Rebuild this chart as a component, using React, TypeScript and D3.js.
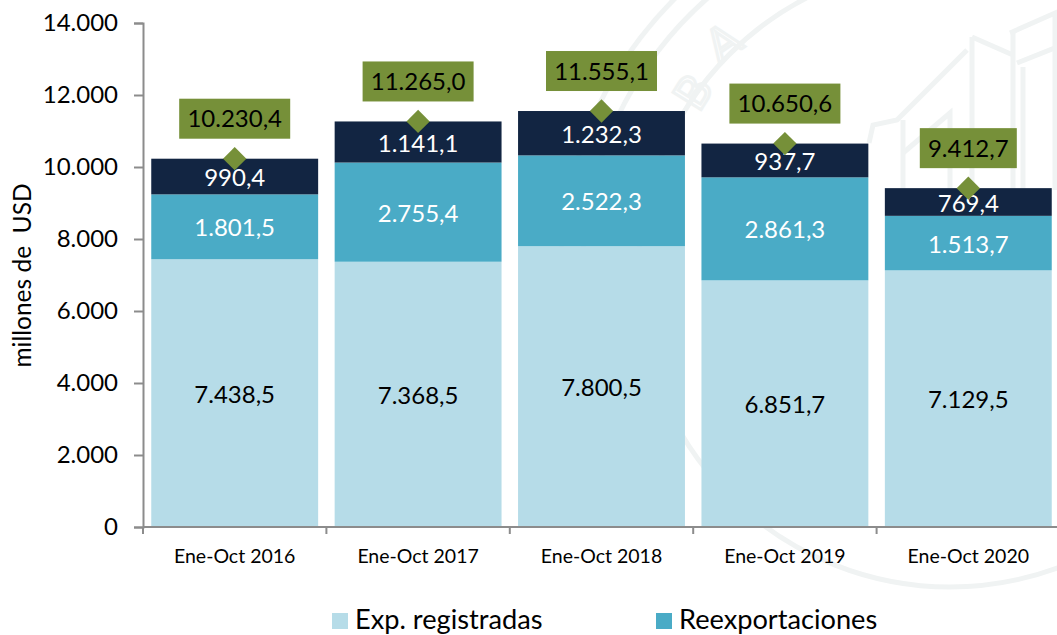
import { useEffect, useRef } from "react"
import * as d3 from "d3"

const periods = ["Ene-Oct 2016", "Ene-Oct 2017", "Ene-Oct 2018", "Ene-Oct 2019", "Ene-Oct 2020"]
const registradas = [7438.5, 7368.5, 7800.5, 6851.7, 7129.5]
const reexportaciones = [1801.5, 2755.4, 2522.3, 2861.3, 1513.7]
const otras = [990.4, 1141.1, 1232.3, 937.7, 769.4]
const totales = [10230.4, 11265.0, 11555.1, 10650.6, 9412.7]
const yTicks = [0, 2000, 4000, 6000, 8000, 10000, 12000, 14000]
const seriesNames = ["Exp. registradas", "Reexportaciones"]

const width = 1057
const height = 635
const marginLeft = 143
const marginTop = 23
const marginBottom = 108
const plotRight = 1060 // last band runs slightly past the page edge
const fontFamily = "Lato, 'Noto Sans', sans-serif"
const colors = ["#b6dce8", "#4aabc6", "#122542"]
const labelColors = ["#000", "#fff", "#fff"]
const olive = "#769039"
const watermark = "#f0f3f3"

// building outline of the seal behind the chart
const buildingLines = [
  "M869,143 L873,125 L897,120 L967,50",
  "M972,37 L972,190",
  "M972,37 L1013,55",
  "M1013,33 L1013,190",
  "M1010,33 L1055,13 L1055,190",
  "M1017,63 L1057,47",
  "M1023,67 L1023,190",
  "M903,120 L903,190",
  "M903,153 L950,113 L950,190",
]

// "10.230,4" style numbers
const fmt = (v: number) =>
  d3.format(",.1f")(v).replace(/,/g, "#").replace(".", ",").replace(/#/g, ".")
const fmtTick = (v: number) => d3.format(",")(v).replace(/,/g, ".")

const App = () => {
  const svgRef = useRef<SVGSVGElement>(null)

  useEffect(() => {
    const svg = d3.select(svgRef.current)
    svg.selectAll("*").remove()
    svg.attr("font-family", fontFamily)

    const x = d3.scaleBand().domain(periods).range([marginLeft, plotRight]).paddingInner(0.09).paddingOuter(0.045)
    const y = d3.scaleLinear().domain([0, 14000]).range([height - marginBottom, marginTop])

    // faint seal in the background
    const wm = svg.append("g").attr("fill", "none").attr("stroke", watermark).attr("stroke-width", 5)
    const arc = d3.arc()
    const seal = wm.append("g").attr("transform", "translate(950,275)")
    seal.append("path")
      .attr("d", arc({ innerRadius: 312, outerRadius: 312, startAngle: 0, endAngle: Math.PI * 2 } as any))
    ;[368, 390].forEach((r) => {
      seal.append("path")
        .attr("d", arc({ innerRadius: r, outerRadius: r, startAngle: -1.9, endAngle: -0.6 } as any))
    })
    buildingLines.forEach((d) => wm.append("path").attr("d", d))
    const letters = [
      { t: "B", x: 693, y: 92, a: -58 },
      { t: "A", x: 723, y: 42, a: -35 },
    ]
    letters.forEach((l) => {
      svg.append("text")
        .attr("transform", `translate(${l.x},${l.y}) rotate(${l.a})`)
        .attr("text-anchor", "middle")
        .attr("dy", "0.35em")
        .attr("font-size", 46)
        .attr("fill", "none")
        .attr("stroke", watermark)
        .attr("stroke-width", 3)
        .text(l.t)
    })

    // stacked bars
    const stack = [registradas, reexportaciones, otras]
    stack.forEach((values, s) => {
      const g = svg.append("g")
      values.forEach((v, i) => {
        const base = d3.sum(stack.slice(0, s), (c) => c[i])
        g.append("rect")
          .attr("x", x(periods[i])!)
          .attr("width", x.bandwidth())
          .attr("y", y(base + v))
          .attr("height", y(base) - y(base + v))
          .attr("fill", colors[s])
      })
    })
    stack.forEach((values, s) => {
      const g = svg.append("g")
      values.forEach((v, i) => {
        const base = d3.sum(stack.slice(0, s), (c) => c[i])
        g.append("text")
          .attr("x", x(periods[i])! + x.bandwidth() / 2)
          .attr("y", y(base + v / 2) + 1)
          .attr("dy", "0.36em")
          .attr("text-anchor", "middle")
          .attr("font-size", 24)
          .attr("fill", labelColors[s])
          .text(fmt(v))
      })
    })

    // axes
    const axisColor = "#8c8c8c"
    const yAxis = svg.append("g")
      .attr("transform", `translate(${marginLeft},0)`)
      .call(d3.axisLeft(y).tickValues(yTicks).tickSize(9).tickPadding(16).tickFormat((d) => fmtTick(d as number)))
    yAxis.select(".domain").attr("stroke", axisColor).attr("stroke-width", 2)
    yAxis.selectAll("line").attr("stroke", axisColor).attr("stroke-width", 2)
    yAxis.selectAll("text").attr("font-size", 24).attr("font-family", fontFamily).attr("fill", "#000")

    const xg = svg.append("g").attr("transform", `translate(0,${y(0)})`)
    xg.append("line").attr("x1", marginLeft).attr("x2", width).attr("stroke", axisColor).attr("stroke-width", 2)
    const step = x.step()
    d3.range(periods.length).forEach((i) => {
      xg.append("line")
        .attr("x1", marginLeft + step * i)
        .attr("x2", marginLeft + step * i)
        .attr("y2", 7)
        .attr("stroke", axisColor)
        .attr("stroke-width", 2)
    })
    periods.forEach((p) => {
      xg.append("text")
        .attr("x", x(p)! + x.bandwidth() / 2)
        .attr("y", 36)
        .attr("text-anchor", "middle")
        .attr("font-size", 19.5)
        .attr("fill", "#000")
        .text(p)
    })

    // y title
    svg.append("text")
      .attr("transform", `translate(31,275.5) rotate(-90)`)
      .attr("text-anchor", "middle")
      .attr("font-size", 24.5)
      .attr("fill", "#000")
      .style("white-space", "pre")
      .text("millones de  USD")

    // totals: diamond on the bar top, label box above it
    const diamond = d3.symbol().type(d3.symbolSquare).size(272)
    totales.forEach((t, i) => {
      const cx = x(periods[i])! + x.bandwidth() / 2
      const top = y(t)
      svg.append("path")
        .attr("d", diamond()!)
        .attr("transform", `translate(${cx},${top}) rotate(45)`)
        .attr("fill", olive)
      const boxW = t >= 10000 ? 111 : 97
      svg.append("rect")
        .attr("x", cx - boxW / 2)
        .attr("y", top - 60)
        .attr("width", boxW)
        .attr("height", 40)
        .attr("fill", olive)
      svg.append("text")
        .attr("x", cx)
        .attr("y", top - 40)
        .attr("dy", "0.36em")
        .attr("text-anchor", "middle")
        .attr("font-size", 24)
        .attr("fill", "#000")
        .text(fmt(t))
    })

    // legend, the other entries fall off the page in the source
    const legendX = [332, 656]
    legendX.forEach((lx, i) => {
      svg.append("rect").attr("x", lx).attr("y", 613).attr("width", 16).attr("height", 16).attr("fill", colors[i])
      svg.append("text")
        .attr("x", lx + 23)
        .attr("y", 629)
        .attr("font-size", 27.2)
        .attr("fill", "#000")
        .text(seriesNames[i])
    })
  }, [])

  return (
    <svg
      ref={svgRef}
      width={width}
      height={height}
      style={{ position: "absolute", left: 0, top: 0, background: "#fff" }}
    />
  )
}

export default App
